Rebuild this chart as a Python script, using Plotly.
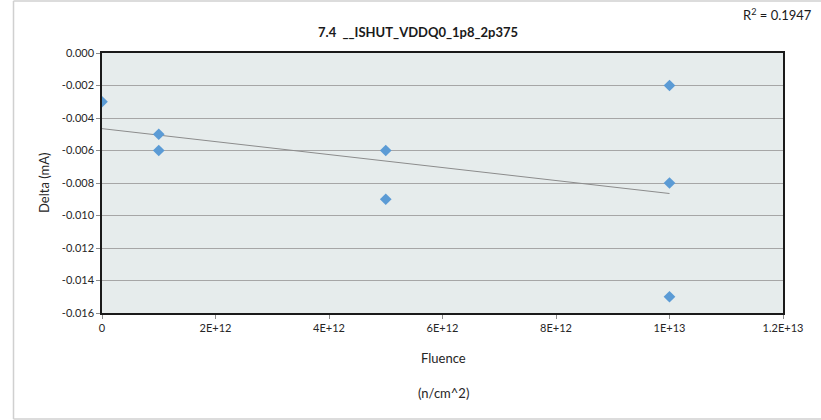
import numpy as np
import plotly.graph_objects as go

# Measured shutdown-current deltas versus neutron fluence
fluence = [0, 1e12, 1e12, 5e12, 5e12, 1e13, 1e13, 1e13]
delta_ma = [-0.003, -0.005, -0.006, -0.006, -0.009, -0.002, -0.008, -0.015]

title_text = "7.4  __ISHUT_VDDQ0_1p8_2p375"
r2_text = "R<sup>2</sup> = 0.1947"

x_tickvals = [0, 2e12, 4e12, 6e12, 8e12, 1e13, 1.2e13]
x_ticktext = ["0", "2E+12", "4E+12", "6E+12", "8E+12", "1E+13", "1.2E+13"]
y_tickvals = [0, -0.002, -0.004, -0.006, -0.008, -0.010, -0.012, -0.014, -0.016]
y_ticktext = ["0.000", "-0.002", "-0.004", "-0.006", "-0.008", "-0.010",
              "-0.012", "-0.014", "-0.016"]

FONT = "Lato, Carlito, Calibri, sans-serif"

# Linear least-squares trendline across the fluence range of the data
slope, intercept = np.polyfit(fluence, delta_ma, 1)
trend_x = np.array([min(fluence), max(fluence)])
trend_y = slope * trend_x + intercept

fig = go.Figure()
fig.add_trace(go.Scatter(
    x=trend_x, y=trend_y, mode="lines",
    line=dict(color="#8c8c8c", width=1),
    hoverinfo="skip", showlegend=False,
))
fig.add_trace(go.Scatter(
    x=fluence, y=delta_ma, mode="markers",
    marker=dict(symbol="diamond", size=9, color="#5b9bd5"),
    showlegend=False,
))

W, H = 821, 420
L, R, T, B = 102, 38, 53, 107
pw, ph = W - L - R, H - T - B


def px(x):
    return (x - L) / pw


def py(y):
    return (H - B - y) / ph


frame = dict(color="#d0d0d0", width=1.5)

fig.update_layout(
    width=W, height=H,
    margin=dict(l=L, r=R, t=T, b=B),
    paper_bgcolor="white",
    plot_bgcolor="#e6ecec",
    font=dict(family=FONT, size=11, color="#262626"),
    xaxis=dict(
        range=[0, 1.2e13], tickvals=x_tickvals, ticktext=x_ticktext,
        showgrid=False, zeroline=False,
        showline=True, mirror=True, linecolor="#1a1a1a", linewidth=1.5,
        ticks="outside", ticklen=4, tickcolor="#8c8c8c",
        tickfont=dict(size=11),
    ),
    yaxis=dict(
        range=[-0.016, 0], tickvals=y_tickvals, ticktext=y_ticktext,
        showgrid=True, gridcolor="#a6a6a6", gridwidth=1, zeroline=False,
        showline=True, mirror=True, linecolor="#1a1a1a", linewidth=1.5,
        ticks="outside", ticklen=4, tickcolor="#8c8c8c",
        tickfont=dict(size=11),
    ),
    shapes=[
        # Chart-area frame: left, top and bottom edges
        dict(type="line", xref="paper", yref="paper",
             x0=px(13.5), x1=px(13.5), y0=py(419), y1=py(1),
             line=frame, layer="below"),
        dict(type="line", xref="paper", yref="paper",
             x0=px(13.5), x1=px(821), y0=py(1), y1=py(1),
             line=frame, layer="below"),
        dict(type="line", xref="paper", yref="paper",
             x0=px(13.5), x1=px(821), y0=py(419), y1=py(419),
             line=frame, layer="below"),
    ],
    annotations=[
        dict(text="<b>" + title_text + "</b>", xref="paper", yref="paper",
             x=px(418), y=py(32), xanchor="center", yanchor="middle",
             showarrow=False, font=dict(size=13, color="#1a1a1a")),
        dict(text=r2_text, xref="paper", yref="paper",
             x=px(814), y=py(14), xanchor="right", yanchor="middle",
             showarrow=False, bgcolor="white",
             font=dict(size=13, color="#1a1a1a")),
        dict(text="Delta (mA)", xref="paper", yref="paper",
             x=px(44), y=py(183), xanchor="center", yanchor="middle",
             textangle=-90, showarrow=False, font=dict(size=13)),
        dict(text="Fluence", xref="paper", yref="paper",
             x=px(443), y=py(358), xanchor="center", yanchor="middle",
             showarrow=False, font=dict(size=13)),
        dict(text="(n/cm^2)", xref="paper", yref="paper",
             x=px(443), y=py(393), xanchor="center", yanchor="middle",
             showarrow=False, font=dict(size=13)),
    ],
)

fig.write_html("out.html")
